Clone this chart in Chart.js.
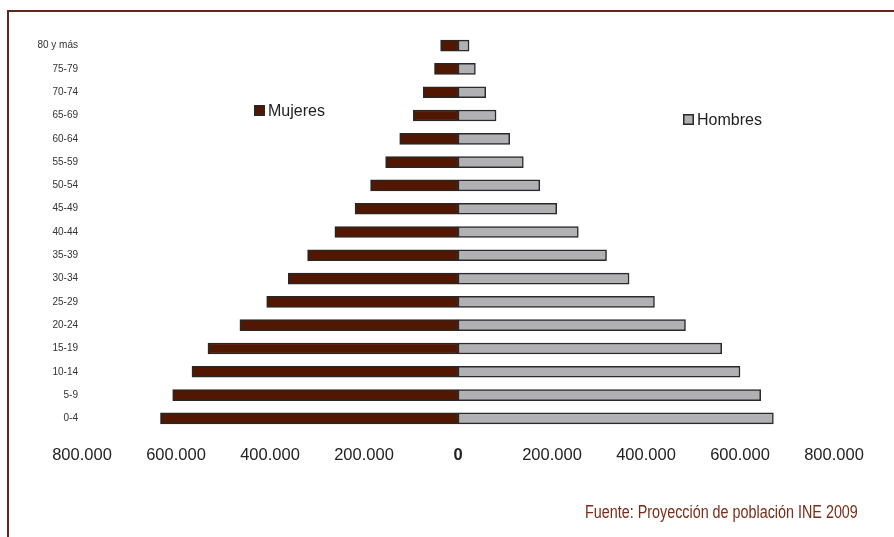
<!DOCTYPE html>
<html lang="es">
<head>
<meta charset="utf-8">
<title>Pirámide de población</title>
<script src="https://cdn.jsdelivr.net/npm/chart.js@4.4.1/dist/chart.umd.min.js"></script>
<style>
  html, body { margin: 0; padding: 0; background: #fff; }
  #wrap { position: relative; width: 894px; height: 537px; overflow: hidden; }
  #marco {
    position: absolute; left: 7px; top: 10px; width: 920px; height: 560px;
    border-top: 2px solid #62281a; border-left: 2px solid #62281a;
  }
  #piramide { position: absolute; left: 0; top: 0; }
  #fuente {
    position: absolute; left: 585px; top: 502px;
    font-family: "Liberation Sans", Arial, sans-serif;
    font-size: 17.5px; color: #7a2c18; white-space: nowrap;
    transform: scaleX(0.82); transform-origin: 0 50%;
  }
</style>
</head>
<body>
<div id="wrap">
  <div id="marco"></div>
  <canvas id="piramide" width="894" height="537"></canvas>
  <div id="fuente">Fuente: Proyección de población INE 2009</div>
</div>
<script>
// grupos de edad, de arriba hacia abajo
const edades = ['80 y más', '75-79', '70-74', '65-69', '60-64', '55-59', '50-54', '45-49',
  '40-44', '35-39', '30-34', '25-29', '20-24', '15-19', '10-14', '5-9', '0-4'];

const mujeres = [37000, 50000, 74000, 95000, 124000, 154000, 186000, 219000,
  262000, 320000, 361000, 407000, 464000, 532000, 566000, 607000, 633000];

const hombres = [23500, 37000, 59000, 81000, 110000, 139000, 174000, 210000,
  256000, 316000, 364000, 418000, 484000, 561000, 600000, 644000, 671000];

const ejeTicks = [-800000, -600000, -400000, -200000, 0, 200000, 400000, 600000, 800000];

function miles(v) {
  return String(Math.abs(v)).replace(/\B(?=(\d{3})+(?!\d))/g, '.');
}

// leyenda suelta: cada serie en su propio sitio
const leyendaSuelta = {
  id: 'leyendaSuelta',
  afterDraw(chart, args, opts) {
    const ctx = chart.ctx;
    ctx.save();
    chart.data.datasets.forEach((ds, i) => {
      const p = opts.pos[i];
      ctx.fillStyle = ds.backgroundColor;
      ctx.fillRect(p.x, p.y, 11, 11);
      ctx.lineWidth = 1.5;
      ctx.strokeStyle = ds.borderColor;
      ctx.strokeRect(p.x + 0.75, p.y + 0.75, 9.5, 9.5);
      ctx.fillStyle = '#222';
      ctx.font = '16px "Liberation Sans", Arial, sans-serif';
      ctx.textBaseline = 'middle';
      ctx.fillText(ds.label, p.x + 14, p.y + 6.5);
    });
    ctx.restore();
  }
};

const ctx = document.getElementById('piramide');

const myChart = new Chart(ctx, {
  type: 'bar',
  data: {
    labels: edades,
    datasets: [{
      label: 'Mujeres',
      data: mujeres.map(v => -v),
      backgroundColor: '#511700',
      borderColor: '#2a2624',
      borderWidth: 1.5,
      borderSkipped: false,
      barThickness: 11
    }, {
      label: 'Hombres',
      data: hombres,
      backgroundColor: '#b1b1b4',
      borderColor: '#2a2a2a',
      borderWidth: 1.5,
      borderSkipped: false,
      barThickness: 11
    }]
  },
  options: {
    indexAxis: 'y',
    responsive: false,
    animation: false,
    layout: { padding: { left: 0, right: 60, top: 34, bottom: 67 } },
    scales: {
      x: {
        stacked: true,
        min: -800000,
        max: 800000,
        grid: { display: false, drawTicks: false },
        border: { display: false },
        afterBuildTicks: scale => { scale.ticks = ejeTicks.map(v => ({ value: v })); },
        afterFit: scale => { scale.height = 40; },
        ticks: {
          padding: 16,
          maxRotation: 0,
          autoSkip: false,
          color: '#222',
          font: c => ({
            family: '"Liberation Sans", Arial, sans-serif',
            size: 16.5,
            weight: c.tick && c.tick.value === 0 ? 'bold' : 'normal'
          }),
          callback: v => miles(v)
        }
      },
      y: {
        stacked: true,
        grid: { display: false, drawTicks: false },
        border: { display: false },
        afterFit: scale => { scale.width = 82; },
        ticks: {
          padding: 4,
          color: '#333',
          font: { family: '"Liberation Sans", Arial, sans-serif', size: 10 }
        }
      }
    },
    plugins: {
      legend: { display: false },
      tooltip: { enabled: false },
      leyendaSuelta: { pos: [{ x: 254, y: 105 }, { x: 683, y: 114 }] }
    }
  },
  plugins: [leyendaSuelta]
});
</script>
</body>
</html>
